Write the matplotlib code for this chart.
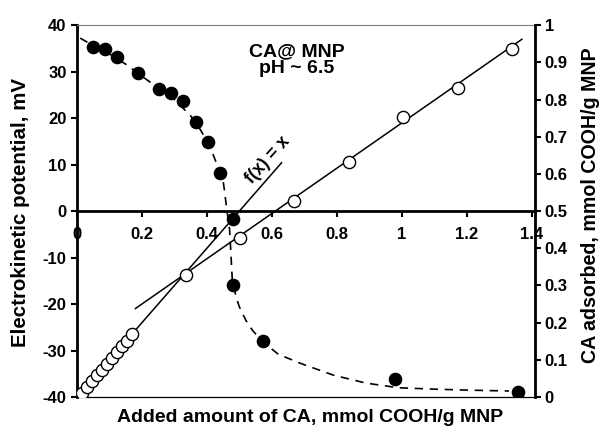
import matplotlib.pyplot as plt

plt.rcParams['font.family'] = ['Liberation Sans', 'DejaVu Sans']
plt.rcParams['font.weight'] = 'bold'
plt.rcParams['axes.unicode_minus'] = False

# electrokinetic potential (left axis), filled circles
zeta_x = [0.049, 0.086, 0.123, 0.188, 0.252, 0.289, 0.326, 0.366, 0.403, 0.440,
          0.480, 0.480, 0.572, 0.980, 1.357]
zeta_y = [35.3, 34.8, 33.1, 29.7, 26.2, 25.4, 23.7, 19.1, 14.8, 8.2,
          -1.7, -15.9, -28.0, -36.1, -38.9]

# dashed trend through the zeta potential points
trend_x = [0.01, 0.05, 0.10, 0.15, 0.20, 0.25, 0.30, 0.35, 0.38, 0.41, 0.43, 0.44,
           0.45, 0.455, 0.46, 0.465, 0.47, 0.475, 0.478, 0.49, 0.50, 0.52, 0.54,
           0.57, 0.62, 0.69, 0.79, 0.89, 0.99, 1.10, 1.20, 1.33]
trend_y = [37.2, 35.6, 33.8, 31.6, 29.0, 26.5, 24.0, 20.5, 17.5, 13.8, 10.2, 8.3,
           6.5, 4.0, 1.0, -1.5, -4.0, -10.5, -14.5, -18.5, -20.6, -23.5, -25.6,
           -28.0, -30.8, -32.8, -35.3, -37.0, -38.0, -38.3, -38.5, -38.7]

# CA adsorbed (right axis), open circles
ads_x = [0.015, 0.030, 0.046, 0.061, 0.076, 0.092, 0.107, 0.122, 0.138, 0.153, 0.168,
         0.335, 0.502, 0.668, 0.837, 1.003, 1.172, 1.338]
ads_y = [0.012, 0.028, 0.043, 0.058, 0.074, 0.090, 0.104, 0.120, 0.136, 0.151, 0.170,
         0.328, 0.427, 0.527, 0.632, 0.753, 0.831, 0.935]

# straight lines: f(x) = x and linear fit of the plateau
fx_x = [0.0, 0.63]
fx_y = [0.0, 0.63]
fit_x = [0.18, 1.37]
fit_y = [0.238, 0.962]

fig = plt.figure(figsize=(5.99, 4.33), dpi=100)
ax = fig.add_axes([0.1285, 0.083, 0.7645, 0.859])
ax2 = ax.twinx()

ax.plot(trend_x, trend_y, color='black', linestyle=(0, (5, 4)), linewidth=1.2, zorder=2)
ax.plot(zeta_x, zeta_y, 'o', color='black', markersize=8.8, zorder=4)

ax2.plot(fx_x, fx_y, color='black', linewidth=1.1, zorder=2)
ax2.plot(fit_x, fit_y, color='black', linewidth=1.1, zorder=2)
ax2.plot(ads_x, ads_y, 'o', markerfacecolor='white', markeredgecolor='black',
         markeredgewidth=1.0, markersize=8.8, zorder=3)

ax.set_xlim(0, 1.41)
ax.set_ylim(-40, 40)
ax2.set_ylim(0, 1)

ax.set_xticks([0, 0.2, 0.4, 0.6, 0.8, 1.0, 1.2, 1.4])
ax.set_xticklabels(['0', '0.2', '0.4', '0.6', '0.8', '1', '1.2', '1.4'])
ax.set_yticks(range(-40, 41, 10))
ax2.set_yticks([i / 10 for i in range(11)])
ax2.set_yticklabels(['0', '0.1', '0.2', '0.3', '0.4', '0.5', '0.6', '0.7', '0.8', '0.9', '1'])

ax.spines['bottom'].set_position(('data', 0))
ax.spines['bottom'].set_linewidth(2)
ax.spines['left'].set_linewidth(2)
ax.spines['top'].set_color('#808080')
ax.spines['top'].set_linewidth(0.8)
ax.spines['right'].set_visible(False)
ax2.spines['right'].set_linewidth(2)
ax2.spines['left'].set_visible(False)
ax2.spines['bottom'].set_visible(False)
ax2.spines['top'].set_visible(False)
ax.axhline(-40, color='black', linewidth=0.9, clip_on=False, zorder=1)

ax.tick_params(axis='x', direction='out', length=4.5, width=1.5, pad=7, labelsize=12)
ax.tick_params(axis='y', direction='out', length=4.5, width=1.5, pad=3, labelsize=12)
ax2.tick_params(axis='y', direction='out', length=4, width=1.5, pad=3, labelsize=12)

ax.text(0.677, 32.5, 'CA@ MNP\npH ~ 6.5', ha='center', va='center', fontsize=14,
        fontweight='bold', linespacing=1.0)
ax.text(0.588, 11.0, 'f(x) = x', ha='center', va='center', fontsize=12.7,
        fontweight='bold', rotation=48)

fig.text(0.034, 0.51, 'Electrokinetic potential, mV', rotation=90, ha='center',
         va='center', fontsize=14.8, fontweight='bold')
fig.text(0.986, 0.525, 'CA adsorbed, mmol COOH/g MNP', rotation=90, ha='center',
         va='center', fontsize=14.1, fontweight='bold')
fig.text(0.517, 0.035, 'Added amount of CA, mmol COOH/g MNP', ha='center',
         va='center', fontsize=14, fontweight='bold')

fig.savefig('out.png', dpi=100)
